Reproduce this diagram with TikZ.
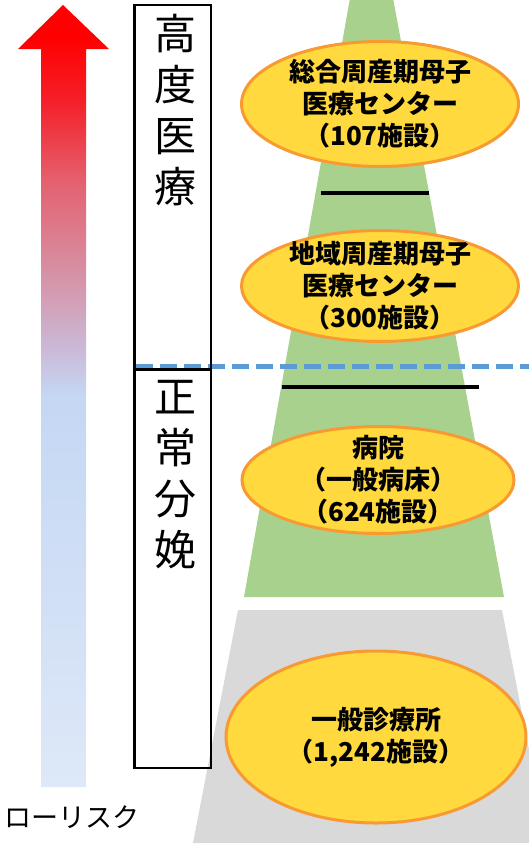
\documentclass[tikz,border=0pt]{standalone}
\usepackage{fontspec}
\setmainfont{Noto Sans CJK JP}
\newfontfamily\cjk{Noto Sans CJK JP}
\usetikzlibrary{shapes.geometric}
\definecolor{greenf}{HTML}{A9D18E}
\definecolor{grayf}{HTML}{D9D9D9}
\definecolor{yelf}{HTML}{FFD93D}
\definecolor{orgb}{HTML}{F79A32}
\definecolor{dashb}{HTML}{5B9BD5}
\definecolor{sA}{HTML}{DEE8F8}
\definecolor{sB}{HTML}{C4D7F3}
\definecolor{sC}{HTML}{CABAD8}
\definecolor{sD}{HTML}{D49AAF}
\definecolor{sE}{HTML}{E4606E}
\definecolor{sF}{HTML}{F41F28}
\definecolor{sG}{HTML}{FF0000}
\pgfdeclareverticalshading{riskshade}{100bp}{
  color(0bp)=(sA);
  color(25bp)=(sA);
  color(50.06bp)=(sB);
  color(52.94bp)=(sC);
  color(56.78bp)=(sD);
  color(63.81bp)=(sE);
  color(68.93bp)=(sF);
  color(73bp)=(sG);
  color(100bp)=(sG)}
\tikzset{
  ell/.style={ellipse, draw=orgb, fill=yelf, line width=3pt, inner sep=0pt},
  elltext/.style={font=\cjk\bfseries\fontsize{26}{32}\selectfont, align=center, inner sep=0pt},
  boxtext/.style={font=\cjk\fontsize{42}{51}\selectfont, align=center, inner sep=0pt},
  level/.style={line width=4pt, black},
}
\begin{document}
\begin{tikzpicture}[x=1pt,y=-1pt]
\useasboundingbox (0,0) rectangle (529,846);
% trapezoids
\fill[greenf] (350,-2) -- (393,-2) -- (504,597) -- (244,597) -- cycle;
\begin{scope}
\clip (0,0) rectangle (529,846);
\fill[grayf] (238,610) -- (502,610) -- (547,843) -- (193,843) -- cycle;
\end{scope}
% arrow
\shade[shading=riskshade] (63,5) -- (109,49) -- (86,49) -- (86,787) -- (41,787) -- (41,49) -- (18,49) -- cycle;
\node[font=\cjk\fontsize{27}{30}\selectfont, anchor=west, inner sep=0pt] (low) at (4,817) {ローリスク};
% box
\draw[dashb, dash pattern=on 17pt off 7pt, line width=5pt] (136,366) -- (529,366);
\draw[line width=2.5pt] (134.5,5) rectangle (211,768);
\draw[line width=2.5pt] (134.5,369.5) -- (211,369.5);
\node[boxtext] (hi) at (175,110) {高\\度\\医\\療};
\node[boxtext] (nm) at (175,475) {正\\常\\分\\娩};
% level lines
\draw[level] (321,193) -- (429,193);
\draw[level] (282,387) -- (479,387);
% ellipses
\node[ell, minimum width=277pt, minimum height=125pt] (e1) at (380,104) {};
\node[elltext] (t1) at (e1.center) {総合周産期母子\\医療センター\\（107施設）};
\node[ell, minimum width=277pt, minimum height=111pt] (e2) at (380,286) {};
\node[elltext] (t2) at (e2.center) {地域周産期母子\\医療センター\\（300施設）};
\node[ell, minimum width=272pt, minimum height=107pt] (e3) at (378,480) {};
\node[elltext] (t3) at (e3.center) {病院\\（一般病床）\\（624施設）};
\node[ell, minimum width=300pt, minimum height=172pt] (e4) at (376,737) {};
\node[elltext] (t4) at (e4.center) {一般診療所\\（1,242施設）};
\end{tikzpicture}
\end{document}
